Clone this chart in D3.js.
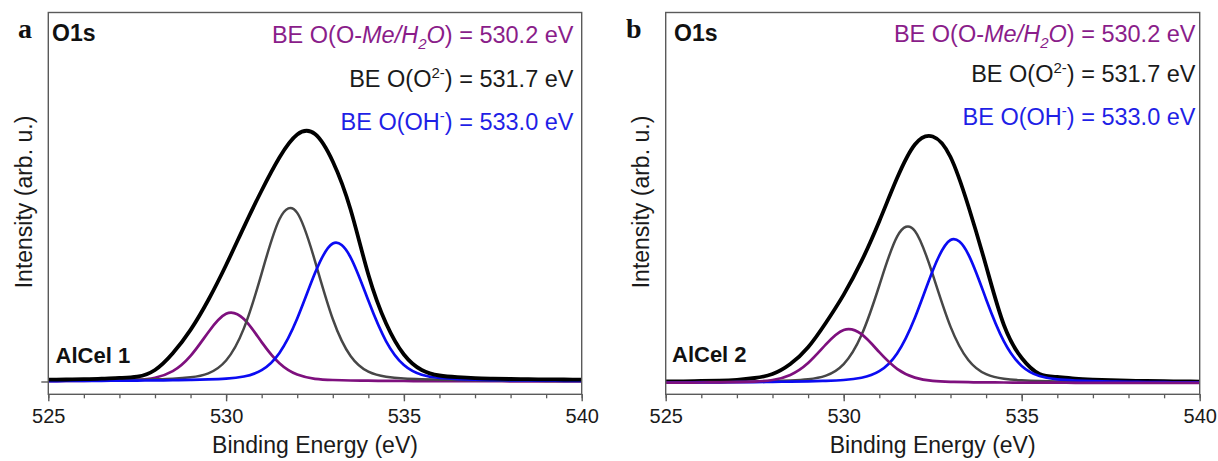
<!DOCTYPE html>
<html><head><meta charset="utf-8">
<script src="https://cdn.jsdelivr.net/npm/d3@7"></script>
<style>
body{margin:0;background:#fff}
</style>
</head><body>
<svg id="c" width="1218" height="461" font-family='"Liberation Sans",Arial,Helvetica,sans-serif'></svg>
<script>
// ---------------- DATA ----------------
const energy = [525,525.5,526,526.5,527,527.5,528,528.5,529,529.5,530,530.5,531,531.5,532,532.5,533,533.5,534,534.5,535,535.5,536,536.5,537,537.5,538,538.5,539,539.5,540];
const xTickValues = [525,530,535,540];
const xMinorTickValues = [525,526,527,528,529,530,531,532,533,534,535,536,537,538,539,540];

// Panel a (AlCel 1)
const aBlack  = [1.8,2.0,2.3,2.8,3.6,4.8,11.5,28.2,51.6,81.5,116.5,154.4,191.0,224.0,247.0,247.5,220.0,172.0,107.0,58.0,27.0,11.5,6.0,4.3,3.4,2.9,2.5,2.3,2.1,2.0,1.9];
const aPurple = [0.4,0.5,0.7,0.9,1.2,1.8,3.8,10.3,25.6,49.3,67.7,62.4,39.4,18.2,6.9,2.7,1.5,1.0,0.8,0.6,0.5,0.4,0.4,0.3,0.3,0.3,0.2,0.2,0.2,0.2,0.1];
const aGray   = [0.7,0.8,1.0,1.1,1.4,1.7,2.2,2.8,4.2,8.2,21.0,53.1,108.1,162.2,168.6,120.4,62.5,25.5,9.8,4.7,3.0,2.3,1.8,1.4,1.2,1.0,0.8,0.7,0.6,0.6,0.5];
const aBlue   = [0.4,0.5,0.6,0.7,0.8,0.9,1.1,1.3,1.6,2.1,2.9,5.0,11.4,28.6,63.0,108.4,138.0,124.2,80.9,40.2,16.5,6.8,3.5,2.4,1.8,1.4,1.2,1.0,0.8,0.7,0.6];

// Panel b (AlCel 2)
const bBlack  = [1.5,1.7,2.0,2.4,3.2,5.0,9.0,19.0,35.8,60.3,88.4,121.8,161.8,204.9,238.5,246.5,226.0,177.0,117.0,58.0,25.0,9.0,6.0,4.4,3.4,2.8,2.4,2.0,1.8,1.6,1.4];
const bPurple = [0.3,0.4,0.5,0.7,0.9,1.4,3.0,8.1,20.0,38.6,53.0,48.8,30.8,14.2,5.4,2.1,1.2,0.8,0.6,0.5,0.4,0.3,0.3,0.2,0.2,0.2,0.2,0.2,0.2,0.2,0.1];
const bGray   = [0.6,0.7,0.9,1.0,1.2,1.5,1.9,2.6,3.8,7.4,18.9,47.9,97.5,146.4,152.1,108.6,56.4,23.0,8.8,4.2,2.7,2.0,1.6,1.3,1.1,0.9,0.8,0.6,0.6,0.5,0.4];
const bBlue   = [0.5,0.5,0.6,0.7,0.8,0.9,1.1,1.4,1.7,2.2,3.0,5.2,11.8,29.6,65.3,112.3,143.0,128.7,83.8,41.6,17.1,7.0,3.6,2.5,1.9,1.5,1.2,1.0,0.8,0.7,0.6];

const panelLetters = ['a','b'];
const sampleNames = ['AlCel 1','AlCel 2'];
const peakValues = ['530.2','531.7','533.0'];
const coreLevel = 'O1s';
const xTitle = 'Binding Energy (eV)';
const yTitle = 'Intensity (arb. u.)';

// ---------------- LAYOUT / STYLE ----------------
const seriesColor = {purple:'#7e107e', gray:'#474747', blue:'#0b0bf2', black:'#000000'};
const seriesWidth = {purple:2.7, gray:2.5, blue:2.7, black:3.8};
const annColor = ['#8a1d8a','#1a1a1a','#1f1fe6'];

const layouts = [
  {x0:48.3,x1:581.7,top:12.5,bottom:394.3,yDom:[-12.8,369],zeroTick:true,
   letter:[18,38], o1s:[52,40.7], sample:[55.6,362.5], annRight:573.5, annY:[43,87.3,130],
   order:['purple','gray','blue','black'],
   data:{black:aBlack,purple:aPurple,gray:aGray,blue:aBlue}},
  {x0:665.7,x1:1199.7,top:12.5,bottom:394.3,yDom:[-11.3,370.5],zeroTick:false,
   letter:[626,37.5], o1s:[674,40.7], sample:[672,362], annRight:1195.5, annY:[41.7,81.7,125],
   order:['black','gray','blue','purple'],
   data:{black:bBlack,purple:bPurple,gray:bGray,blue:bBlue}}
];

const svg = d3.select('#c');

function annotation(g, xr, y, color, parts){
  const t = g.append('text').attr('x', xr).attr('y', y).attr('text-anchor','end')
    .attr('font-size', 23.5).attr('fill', color);
  let shift = 0;
  parts.forEach(p => {
    const ts = t.append('tspan').text(p.t);
    let target = 0;
    if (p.sup) { target = -9; ts.attr('font-size', 15); }
    if (p.sub) { target = 6; ts.attr('font-size', 15); }
    if (p.it) ts.attr('font-style','italic');
    if (target !== shift) { ts.attr('dy', target - shift); shift = target; }
  });
}

layouts.forEach((L, i) => {
  const g = svg.append('g');
  const x = d3.scaleLinear().domain([525,540]).range([L.x0, L.x1]);
  const y = d3.scaleLinear().domain(L.yDom).range([L.bottom, L.top]);

  const clipId = 'clip' + i;
  svg.append('clipPath').attr('id', clipId).append('rect')
    .attr('x', L.x0).attr('y', L.top).attr('width', L.x1 - L.x0).attr('height', L.bottom - L.top);

  // curves
  const line = d3.line().x(d => x(d[0])).y(d => y(d[1])).curve(d3.curveNatural);
  const cg = g.append('g').attr('clip-path', `url(#${clipId})`);
  L.order.forEach(k => {
    const pts = energy.map((e, j) => [e, L.data[k][j]]);
    cg.append('path').attr('d', line(pts)).attr('fill','none')
      .attr('stroke', seriesColor[k]).attr('stroke-width', seriesWidth[k])
      .attr('stroke-linejoin','round').attr('stroke-linecap','round');
  });

  // frame
  g.append('rect').attr('x', L.x0).attr('y', L.top).attr('width', L.x1 - L.x0).attr('height', L.bottom - L.top)
    .attr('fill','none').attr('stroke','#5a5a5a').attr('stroke-width',1.4);

  // x axis
  const minor = g.append('g').attr('transform', `translate(0,${L.bottom})`)
    .call(d3.axisBottom(x).tickValues(xMinorTickValues).tickSize(4).tickFormat(''));
  minor.select('.domain').remove();
  minor.selectAll('line').attr('stroke','#5a5a5a').attr('stroke-width',1.3);
  const major = g.append('g').attr('transform', `translate(0,${L.bottom})`)
    .call(d3.axisBottom(x).tickValues(xTickValues).tickSize(7).tickPadding(7.5).tickFormat(d3.format('d')));
  major.select('.domain').remove();
  major.selectAll('line').attr('stroke','#5a5a5a').attr('stroke-width',1.4);
  major.selectAll('text').attr('font-size',20).attr('fill','#1a1a1a')
    .attr('font-family','"Liberation Sans",Arial,sans-serif');

  if (L.zeroTick) {
    const ya = g.append('g').attr('transform', `translate(${L.x0},0)`)
      .call(d3.axisLeft(y).tickValues([0]).tickSize(7).tickFormat(''));
    ya.select('.domain').remove();
    ya.selectAll('line').attr('stroke','#5a5a5a').attr('stroke-width',1.4);
  }

  // titles
  g.append('text').attr('x', (L.x0 + L.x1)/2).attr('y', 453).attr('text-anchor','middle')
    .attr('font-size',23).attr('fill','#1a1a1a').text(xTitle);
  g.append('text').attr('transform', `translate(${L.x0 - 16.5},${202}) rotate(-90)`)
    .attr('text-anchor','middle').attr('font-size',23).attr('fill','#1a1a1a').text(yTitle);

  // labels
  g.append('text').attr('x', L.letter[0]).attr('y', L.letter[1]).attr('font-size',28)
    .attr('font-weight','bold').style('font-family','"Liberation Serif","Times New Roman",serif')
    .attr('fill','#111').text(panelLetters[i]);
  g.append('text').attr('x', L.o1s[0]).attr('y', L.o1s[1]).attr('font-size',23)
    .attr('font-weight','bold').attr('fill','#111').text(coreLevel);
  g.append('text').attr('x', L.sample[0]).attr('y', L.sample[1]).attr('font-size',22)
    .attr('font-weight','bold').attr('fill','#111').text(sampleNames[i]);

  annotation(g, L.annRight, L.annY[0], annColor[0],
    [{t:'BE O(O-'},{t:'Me/H',it:true},{t:'2',it:true,sub:true},{t:'O',it:true},{t:') = ' + peakValues[0] + ' eV'}]);
  annotation(g, L.annRight, L.annY[1], annColor[1],
    [{t:'BE O(O'},{t:'2-',sup:true},{t:') = ' + peakValues[1] + ' eV'}]);
  annotation(g, L.annRight, L.annY[2], annColor[2],
    [{t:'BE O(OH'},{t:'-',sup:true},{t:') = ' + peakValues[2] + ' eV'}]);
});
</script>
</body></html>
